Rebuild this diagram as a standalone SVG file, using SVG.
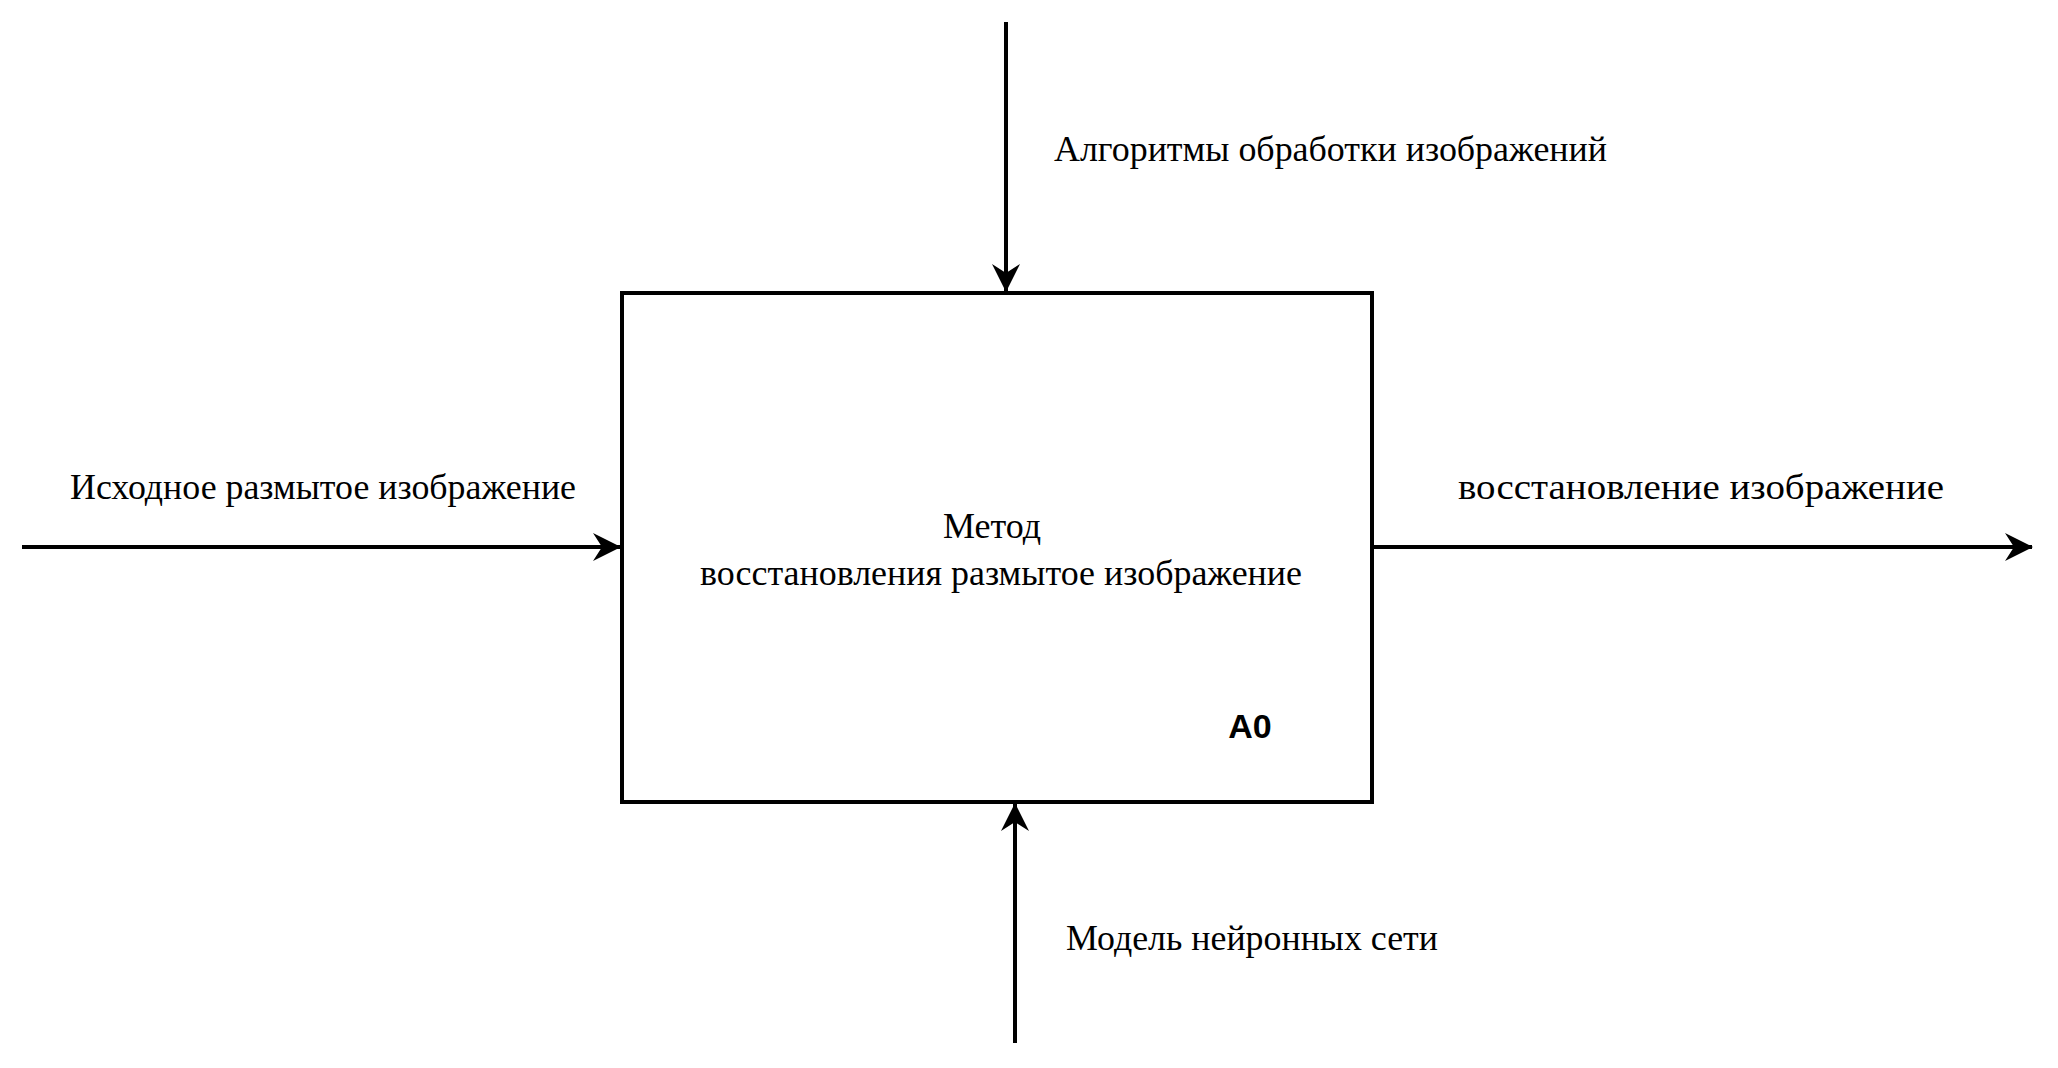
<svg xmlns="http://www.w3.org/2000/svg" width="2058" height="1068" viewBox="0 0 2058 1068">
<style>
.lbl{font-family:"Liberation Serif","Times New Roman",serif;font-size:36px;fill:#000}
.num{font-family:"Liberation Sans",Arial,sans-serif;font-size:34px;font-weight:bold;fill:#000}
.box{fill:#fff;stroke:#000;stroke-width:4}
.conn{fill:none;stroke:#000;stroke-width:4}
</style>
<defs>
<marker id="arr" markerUnits="userSpaceOnUse" viewBox="0 0 28 28" markerWidth="28" markerHeight="28" refX="27" refY="14" orient="auto">
<path d="M0,0 L28,14 L0,28 L9,14 Z" fill="#000"/>
</marker>
</defs>
<rect width="2058" height="1068" fill="#fff"/>
<g id="node-A0">
<rect class="box" x="622" y="293" width="750" height="509"/>
<text class="lbl" x="992" y="538" text-anchor="middle">Метод</text>
<text class="lbl" x="1001" y="585" text-anchor="middle" textLength="602" lengthAdjust="spacingAndGlyphs">восстановления размытое изображение</text>
<text class="num" x="1250" y="738" text-anchor="middle">A0</text>
</g>
<g id="connectors">
<path class="conn" d="M1006,22 V291" marker-end="url(#arr)"/>
<path class="conn" d="M22,547 H620" marker-end="url(#arr)"/>
<path class="conn" d="M1374,547 H2032" marker-end="url(#arr)"/>
<path class="conn" d="M1015,1043 V804" marker-end="url(#arr)"/>
</g>
<g id="labels">
<text class="lbl" x="1054" y="161" textLength="553" lengthAdjust="spacingAndGlyphs">Алгоритмы обработки изображений</text>
<text class="lbl" x="70" y="499" textLength="506" lengthAdjust="spacingAndGlyphs">Исходное размытое изображение</text>
<text class="lbl" x="1458" y="499" textLength="486" lengthAdjust="spacingAndGlyphs">восстановление изображение</text>
<text class="lbl" x="1066" y="950" textLength="372" lengthAdjust="spacingAndGlyphs">Модель нейронных сети</text>
</g>
</svg>
